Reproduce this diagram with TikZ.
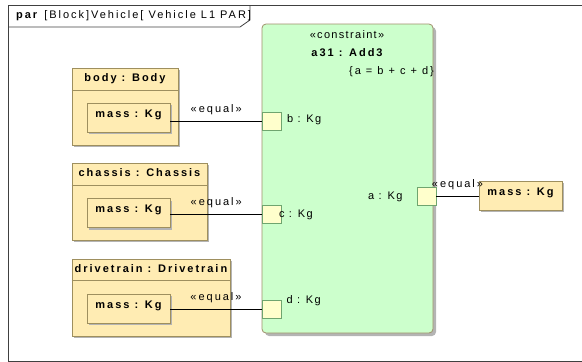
\documentclass[tikz,border=0pt]{standalone}
\usepackage{fontspec}
\newfontfamily\umlfont{Liberation Sans}[LetterSpace=18]
\usetikzlibrary{positioning, shadows}

\definecolor{framegray}{HTML}{404040}
\definecolor{blockfill}{HTML}{FFECB3}
\definecolor{blockedge}{HTML}{9E8F5E}
\definecolor{cstrfill}{HTML}{CCFFCC}
\definecolor{cstredge}{HTML}{A08F6A}
\definecolor{portfill}{HTML}{FFFFCC}
\definecolor{portedge}{HTML}{6FA56F}
\definecolor{shadowgray}{HTML}{B4B4B4}

\begin{document}
\begin{tikzpicture}[
    x=1pt, y=-1pt,
    font=\umlfont\fontsize{11}{13}\selectfont,
    frameline/.style = {draw=framegray, line width=0.8pt},
    block/.style = {rectangle, draw=blockedge, fill=blockfill, line width=0.8pt, inner sep=0pt, minimum height=77pt, drop shadow={shadow xshift=2pt, shadow yshift=-2pt, fill=shadowgray, opacity=1}},
    part/.style = {rectangle, draw=blockedge, fill=blockfill, line width=0.8pt, inner sep=0pt, minimum width=83pt, minimum height=29pt, text height=8pt, text depth=9pt, font=\umlfont\bfseries\fontsize{11}{13}\selectfont, drop shadow={shadow xshift=2pt, shadow yshift=-2pt, fill=shadowgray, opacity=1}},
    constraint/.style = {rectangle, draw=cstredge, fill=cstrfill, line width=0.8pt, rounded corners=4pt, inner sep=0pt, drop shadow={shadow xshift=3pt, shadow yshift=-3pt, fill=shadowgray, opacity=1}},
    port/.style = {rectangle, draw=portedge, fill=portfill, line width=0.8pt, minimum width=19pt, minimum height=18pt, inner sep=0pt},
    title/.style = {inner sep=0pt, font=\umlfont\bfseries\fontsize{11}{13}\selectfont},
    txt/.style = {inner sep=0pt},
    tight/.style = {inner sep=0pt, font=\umlfont\fontsize{11}{13}\selectfont\addfontfeature{LetterSpace=12}},
    conn/.style = {draw=black, line width=0.8pt},
]
\useasboundingbox (0,0) rectangle (582,362);

% Diagram frame
\draw[frameline] (582,5) -- (8,5) -- (8,361) -- (582,361);
\draw[frameline] (8,27) -- (240,27) -- (250,20) -- (250,5);
\node[txt, anchor=west] (frameLabel) at (16,16) {\textbf{par} [Block]Vehicle[ Vehicle L1 PAR]};

% Constraint property
\node[constraint, minimum width=171pt, minimum height=309pt] (add3) at (347.5,178.5) {};
\node[tight] (stereo) at (347,35) {«constraint»};
\node[title] (add3Name) at (347,53) {a31 : Add3};
\node[txt, anchor=east] (add3Eq) at (434,72) {\{a = b + c + d\}};

% Parts
\node[block, minimum width=106pt] (body) at (125,106.5) {};
\node[title, below=6pt of body.north] (bodyTitle) {body : Body};
\draw[draw=blockedge, line width=0.8pt] ([yshift=-23pt]body.north west) -- ([yshift=-23pt]body.north east);
\node[part] (bodyMass) at (128.5,117.5) {mass : Kg};

\node[block, minimum width=135pt] (chassis) at (139.5,201.5) {};
\node[title, below=6pt of chassis.north] (chassisTitle) {chassis : Chassis};
\draw[draw=blockedge, line width=0.8pt] ([yshift=-23pt]chassis.north west) -- ([yshift=-23pt]chassis.north east);
\node[part] (chassisMass) at (128.5,213) {mass : Kg};

\node[block, minimum width=158pt] (drive) at (151,297.5) {};
\node[title, below=6pt of drive.north] (driveTitle) {drivetrain : Drivetrain};
\draw[draw=blockedge, line width=0.8pt] ([yshift=-22pt]drive.north west) -- ([yshift=-22pt]drive.north east);
\node[part] (driveMass) at (128.5,308.5) {mass : Kg};

\node[part] (outMass) at (520.5,195.5) {mass : Kg};

% Ports
\node[port] (portB) at (272,121.5) {};
\node[port] (portC) at (272,214.5) {};
\node[port] (portD) at (271.5,309) {};
\node[port] (portA) at (426.5,196.5) {};
\node[tight, right=5pt of portB, yshift=2pt] (labelB) {b : Kg};
\node[tight, right=-3pt of portC] (labelC) {c : Kg};
\node[tight, right=5pt of portD, yshift=8pt] (labelD) {d : Kg};
\node[tight, left=14pt of portA] (labelA) {a : Kg};

% Binding connectors
\draw[conn] (portB.west) -- (portB.west -| bodyMass.east) node[txt, midway, above=6pt] (eqB) {«equal»};
\draw[conn] (portC.west) -- (portC.west -| chassisMass.east) node[txt, midway, above=6pt] (eqC) {«equal»};
\draw[conn] (portD.west) -- (portD.west -| driveMass.east) node[txt, midway, above=6pt] (eqD) {«equal»};
\draw[conn] (portA.east) -- (portA.east -| outMass.west) node[txt, midway, above=6pt] (eqA) {«equal»};

\end{tikzpicture}
\end{document}
